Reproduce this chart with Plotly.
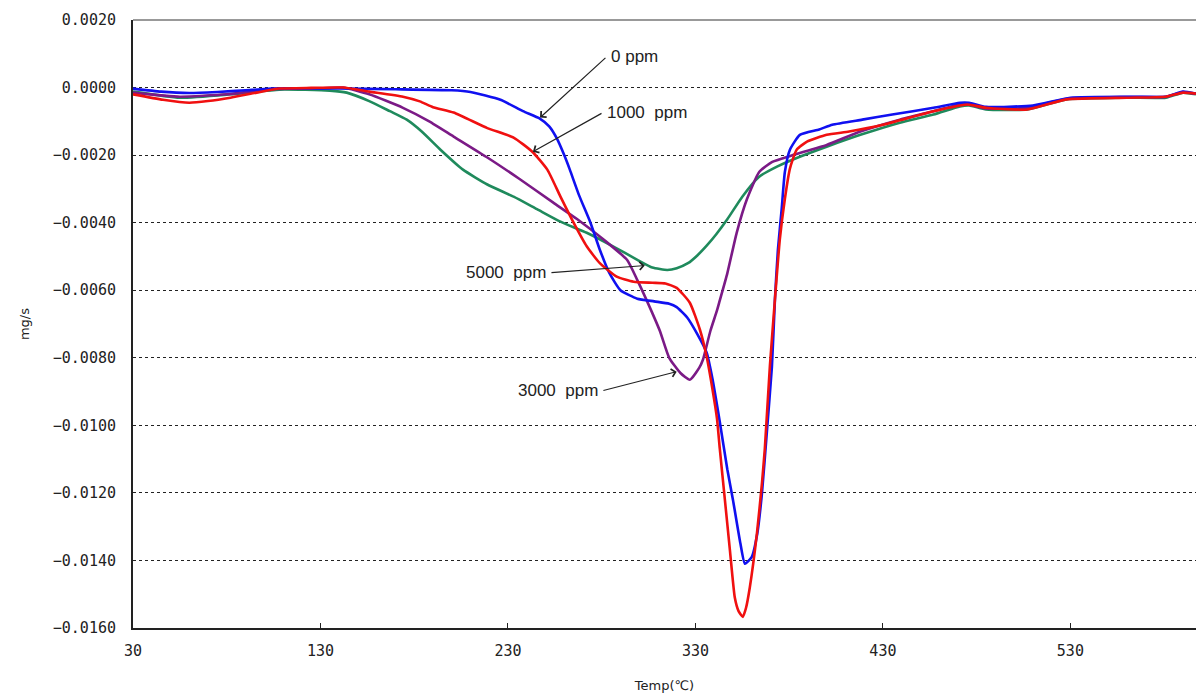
import plotly.graph_objects as go

# ---- data (temperature in degC, DTG in mg/s) ----
temp_0ppm = [30, 45, 60, 75, 90, 105, 120, 140, 170, 200, 210, 226, 238, 247, 252, 256, 260, 263, 268, 274,
             279, 284, 290, 299, 308, 316, 320, 325.5, 331, 336, 339, 343, 347, 350, 354, 356.4, 360, 363,
             365.5, 368.1, 370.8, 372.4, 374, 376, 377.7, 380.4, 385.7, 396, 403, 419, 435, 457, 471, 476,
             485, 510, 530, 563, 581, 590, 597]
dtg_0ppm = [-0.00003, -0.00012, -0.00016, -0.00013, -0.00008, -0.00003, -0.00002, -0.00003, -0.00005, -0.00008,
            -0.00013, -0.00036, -0.0007, -0.00092, -0.00115, -0.0015, -0.0020, -0.00243, -0.0032, -0.0040,
            -0.0048, -0.00548, -0.0060, -0.00625, -0.00633, -0.0064, -0.0065, -0.0068, -0.0073, -0.00785,
            -0.0086, -0.0099, -0.0113, -0.0122, -0.0135, -0.0141, -0.0139, -0.0132, -0.0120, -0.0102,
            -0.00826, -0.00628, -0.0048, -0.0036, -0.0025, -0.00184, -0.0014, -0.00124, -0.0011, -0.00095,
            -0.0008, -0.0006, -0.00045, -0.00045, -0.00057, -0.00053, -0.0003, -0.00027, -0.00027, -0.00012,
            -0.00018]

temp_1000ppm = [30, 46, 60, 70, 82, 96, 108, 125, 142, 156, 174, 183, 190, 201, 219, 233, 243, 251, 258, 265,
                272, 279, 288, 297, 307, 314, 320, 327, 332.4, 336, 339, 341.5, 343, 345.7, 348.4, 351, 353,
                355.3, 357, 359, 362.8, 365.5, 367, 369.7, 372.4, 375, 377.7, 380.4, 384, 389.5, 400, 412,
                430, 457, 475, 485, 507, 528, 560, 581, 590, 597]
dtg_1000ppm = [-0.0002, -0.00036, -0.00045, -0.0004, -0.0003, -0.00015, -0.00003, -0.00001, 0.0, -0.00012,
               -0.00027, -0.00041, -0.00058, -0.00074, -0.0012, -0.00148, -0.0019, -0.00243, -0.00323, -0.0040,
               -0.0047, -0.0052, -0.0056, -0.00575, -0.00578, -0.0058, -0.00593, -0.00637, -0.00717, -0.00797,
               -0.0089, -0.0098, -0.0107, -0.0122, -0.0137, -0.0151, -0.0155, -0.01567, -0.0154, -0.0148,
               -0.0132, -0.0117, -0.0107, -0.00826, -0.00628, -0.0045, -0.0033, -0.0024, -0.00184, -0.0016,
               -0.0014, -0.0013, -0.0011, -0.0007, -0.0005, -0.0006, -0.00065, -0.00035, -0.0003, -0.00027,
               -0.00015, -0.00018]

temp_3000ppm = [30, 55, 80, 105, 130, 142, 156, 174, 188, 201, 219, 236, 254, 267, 281, 293.5, 299, 304,
                311, 316, 322, 327, 332, 334, 338, 341.5, 343, 347, 352, 357.5, 364, 371, 382, 400, 418, 439,
                457, 471, 476, 485, 507, 528, 560, 581, 590, 597]
dtg_3000ppm = [-0.00015, -0.00027, -0.0002, -0.00004, -0.00002, 0.0, -0.0002, -0.0006, -0.001,
               -0.00145, -0.00207, -0.0027, -0.0034, -0.0039, -0.0045, -0.0051, -0.0057, -0.0063, -0.0072,
               -0.0080, -0.00845, -0.00865, -0.0083, -0.00806, -0.0072, -0.0066, -0.0063, -0.0055, -0.0043,
               -0.0033, -0.0025, -0.0022, -0.0020, -0.0017, -0.0013, -0.00095, -0.0007, -0.0005, -0.0005,
               -0.00062, -0.0006, -0.00033, -0.00028, -0.00027, -0.00013, -0.00018]

temp_5000ppm = [30, 55, 82, 108, 135, 144, 156, 167, 176, 184, 194, 206, 219, 233, 245.5, 258, 272, 286, 299,
                307, 315, 320, 326, 331, 336, 341, 347, 355, 364, 373.5, 386, 400, 418, 439, 457, 471,
                476, 485, 507, 528, 560, 581, 590, 597]
dtg_5000ppm = [-0.00012, -0.0003, -0.0002, -0.00006, -0.00009, -0.00015, -0.0004, -0.0007, -0.00095, -0.0013,
               -0.00184, -0.00243, -0.00287, -0.00323, -0.0036, -0.00397, -0.0043, -0.0047, -0.0051, -0.00533,
               -0.0054, -0.00535, -0.0052, -0.00497, -0.00468, -0.00435, -0.0039, -0.00323, -0.00264,
               -0.00234, -0.00204, -0.00175, -0.0014, -0.00104, -0.0008, -0.00056, -0.00053, -0.00065,
               -0.00065, -0.00035, -0.0003, -0.0003, -0.00015, -0.0002]

x_ticks = [30, 130, 230, 330, 430, 530]
y_ticks = [0.002, 0.0, -0.002, -0.004, -0.006, -0.008, -0.010, -0.012, -0.014, -0.016]

series = [
    ("5000 ppm", temp_5000ppm, dtg_5000ppm, "#1f8a5c"),
    ("3000 ppm", temp_3000ppm, dtg_3000ppm, "#7b1a86"),
    ("0 ppm", temp_0ppm, dtg_0ppm, "#1010f0"),
    ("1000 ppm", temp_1000ppm, dtg_1000ppm, "#f01010"),
]

fig = go.Figure()
for name, xs, ys, col in series:
    fig.add_trace(go.Scatter(x=xs, y=ys, mode="lines", name=name,
                             line=dict(color=col, width=2.6, shape="spline", smoothing=0.5)))

tick_font = dict(family="DejaVu Sans Mono", size=15, color="#222222")
fig.update_layout(
    width=1197, height=695,
    margin=dict(l=133, r=1, t=20, b=67, autoexpand=False),
    paper_bgcolor="white", plot_bgcolor="white",
    showlegend=False,
    xaxis=dict(range=[30, 597], tickvals=x_ticks, ticktext=[str(v) for v in x_ticks],
               ticks="inside", ticklen=5, tickcolor="#222222", showgrid=False, zeroline=False,
               showline=True, linecolor="#222222", linewidth=2, tickfont=tick_font,
               ticklabelstandoff=8, automargin=False,
               title=dict(text="Temp(℃)", font=dict(family="DejaVu Sans", size=13, color="#222222"),
                          standoff=22)),
    yaxis=dict(range=[-0.016, 0.002], tickvals=y_ticks, tickformat=".4f", ticks="",
               showgrid=True, gridcolor="#222222", griddash="dot", gridwidth=1,
               zeroline=False, showline=True, linecolor="#222222", linewidth=2, tickfont=tick_font,
               ticklabelstandoff=12, automargin=False,
               title=dict(text="mg/s", font=dict(family="DejaVu Sans", size=13, color="#222222"),
                          standoff=20)),
)

# top border
fig.add_shape(type="line", xref="paper", yref="paper", x0=0, x1=1, y0=1, y1=1,
              line=dict(color="#999999", width=2))

ann_font = dict(family="Liberation Sans", size=17, color="#222222")
labels = [
    # text, tip(x,y), tail(x,y), text anchor side
    ("0 ppm", (247.1, -0.00089), (282.8, 0.00092), "left"),
    ("1000  ppm", (243.3, -0.0019), (280.7, -0.00074), "left"),
    ("5000  ppm", (303.0, -0.00527), (252.4, -0.00548), "right"),
    ("3000  ppm", (320.0, -0.00841), (280.1, -0.00898), "right"),
]
for txt, tip, tail, side in labels:
    fig.add_annotation(x=tip[0], y=tip[1], ax=tail[0], ay=tail[1], xref="x", yref="y",
                       axref="x", ayref="y", text="", showarrow=True, arrowhead=4,
                       arrowsize=1.3, arrowwidth=1.2, arrowcolor="#222222")
    fig.add_annotation(x=tail[0] + (1.0 if side == "left" else -1.0), y=tail[1], xref="x", yref="y",
                       text=txt, showarrow=False, xanchor=side, yanchor="middle", font=ann_font)

fig.write_html("out.html", config={"displayModeBar": False},
               post_script="document.body.style.margin='0';document.body.style.overflow='hidden';")
